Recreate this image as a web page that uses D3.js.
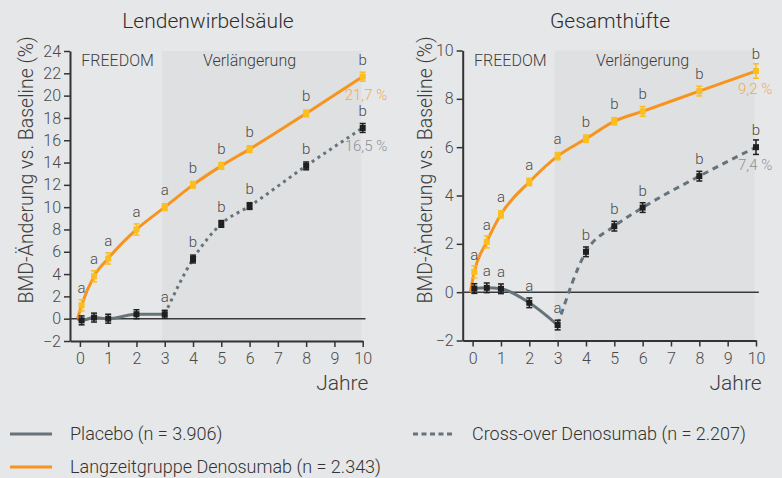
<!DOCTYPE html>
<html>
<head>
<meta charset="utf-8">
<script src="https://cdn.jsdelivr.net/npm/d3@7/dist/d3.min.js"></script>
<style>
body { margin: 0; background: #e6e7e9; }
svg text { font-family: Roboto, "Noto Sans", sans-serif; font-weight: 300; fill: #3d3d3d; }
</style>
</head>
<body>
<div id="chart"></div>
<script>

// measurement times (years)
var baselineYear = -0.08;
var yearsLong = [0.06, 0.5, 1, 2, 3, 4, 5, 6, 8, 10];
var yearsPlacebo = [0.06, 0.5, 1, 2, 3];
var yearsCross = [4, 5, 6, 8, 10];
var xTicks = [0, 1, 2, 3, 4, 5, 6, 7, 8, 9, 10];

// Lendenwirbelsäule
var lwsLong = [1.2, 3.8, 5.4, 8.0, 10.0, 12.0, 13.7, 15.2, 18.4, 21.7];
var lwsLongErr = [0.5, 0.5, 0.5, 0.5, 0.3, 0.3, 0.3, 0.3, 0.3, 0.4];
var lwsLongSig = ['a', 'a', 'a', 'a', 'a', 'b', 'b', 'b', 'b', 'b'];
var lwsPlacebo = [-0.15, 0.1, 0.0, 0.4, 0.4];
var lwsPlaceboErr = [0.4, 0.4, 0.4, 0.4, 0.35];
var lwsPlaceboSig = ['', '', '', '', 'a'];
var lwsCross = [5.35, 8.5, 10.1, 13.7, 17.1];
var lwsCrossErr = [0.35, 0.3, 0.3, 0.35, 0.4];
var lwsCrossSig = ['b', 'b', 'b', 'b', 'b'];
var lwsYTicks = [-2, 0, 2, 4, 6, 8, 10, 12, 14, 16, 18, 20, 22, 24];
var lwsEndLabels = ['21,7 %', '16,5 %'];

// Gesamthüfte
var hipLong = [0.84, 2.08, 3.22, 4.56, 5.63, 6.35, 7.07, 7.48, 8.32, 9.15];
var hipLongErr = [0.25, 0.25, 0.15, 0.15, 0.15, 0.15, 0.15, 0.2, 0.2, 0.3];
var hipLongSig = ['a', 'a', 'a', 'a', 'a', 'b', 'b', 'b', 'b', 'b'];
var hipPlacebo = [0.15, 0.18, 0.14, -0.44, -1.36];
var hipPlaceboErr = [0.2, 0.2, 0.2, 0.2, 0.2];
var hipPlaceboSig = ['', 'a', 'a', 'a', 'a'];
var hipCross = [1.67, 2.73, 3.5, 4.8, 6.0];
var hipCrossErr = [0.2, 0.2, 0.2, 0.2, 0.3];
var hipCrossSig = ['b', 'b', 'b', 'b', 'b'];
var hipYTicks = [-2, 0, 2, 4, 6, 8, 10];
var hipEndLabels = ['9,2 %', '7,4 %'];

var legendItems = ['Placebo (n = 3.906)', 'Cross-over Denosumab (n = 2.207)',
    'Langzeitgruppe Denosumab (n = 2.343)'];

var orange = '#f7941d', orangeMark = '#fcbd1e', orangeText = '#f6a94e';
var grey = '#66737b', greyText = '#8c9297', dark = '#1f1f1f';

var W = 782, H = 478;
var svg = d3.select('#chart').append('svg')
    .attr('width', W).attr('height', H);
svg.append('rect').attr('width', W).attr('height', H).attr('fill', '#e6e7e9');

function zip(xs, ys, es, ss) {
    return xs.map(function (x, i) {
        return {x: x, y: ys[i], e: es ? es[i] : 0, s: ss ? ss[i] : ''};
    });
}

function drawPanel(p) {
    var x = d3.scaleLinear().domain([-0.35, 10]).range(p.xRange);
    var y = d3.scaleLinear().domain([-2, p.yMax]).range(p.yRange);
    var g = svg.append('g');

    // Verlängerung shading
    g.append('rect')
        .attr('x', x(2.9)).attr('y', y(p.yMax))
        .attr('width', x(9.95) - x(2.9)).attr('height', y(-2) - y(p.yMax))
        .attr('fill', '#dfe0e2');

    g.append('text').attr('x', x(0.05)).attr('y', 66)
        .style('font-size', '16px').text('FREEDOM');
    g.append('text').attr('x', x(4.35)).attr('y', 66)
        .style('font-size', '16px').text('Verlängerung');

    // title
    g.append('text').attr('x', p.titleX).attr('y', 28)
        .attr('text-anchor', 'middle').style('font-size', '21px').style('fill', '#2e2e2e')
        .text(p.title);

    // axes
    var xAxis = d3.axisBottom(x).tickValues(xTicks).tickSize(6).tickSizeOuter(0).tickPadding(6);
    var yAxis = d3.axisLeft(y).tickValues(p.yTicks).tickSize(6).tickSizeOuter(0).tickPadding(3);

    var gx = g.append('g').attr('transform', 'translate(0,' + y(-2) + ')').call(xAxis);
    var gy = g.append('g').attr('transform', 'translate(' + p.xRange[0] + ',0)').call(yAxis);
    [gx, gy].forEach(function (a) {
        a.select('.domain').attr('stroke', '#333').attr('stroke-width', 2);
        a.selectAll('.tick line').attr('stroke', '#333').attr('stroke-width', 1.5);
        a.selectAll('.tick text').style('font-size', '16px').style('fill', '#4a4a4a')
            .style('font-family', 'Roboto, sans-serif').style('font-weight', 300);
    });

    // zero line
    g.append('line')
        .attr('x1', p.xRange[0]).attr('x2', x(10.1))
        .attr('y1', y(0)).attr('y2', y(0))
        .attr('stroke', '#3a3a3a').attr('stroke-width', 1.5);

    g.append('text')
        .attr('transform', 'translate(' + (p.xRange[0] - p.yLabelDx) + ',170) rotate(-90)')
        .attr('text-anchor', 'middle').style('font-size', '19.5px')
        .text('BMD-Änderung vs. Baseline (%)');

    g.append('text').attr('x', x(10.2)).attr('y', 390)
        .attr('text-anchor', 'end').style('font-size', '21px').text('Jahre');

    var line = d3.line()
        .x(function (d) { return x(d.x); })
        .y(function (d) { return y(d.y); })
        .curve(d3.curveMonotoneX);

    var origin = {x: baselineYear, y: 0};
    var long = zip(p.yearsLong, p.long, p.longErr, p.longSig);
    var placebo = zip(yearsPlacebo, p.placebo, p.placeboErr, p.placeboSig);
    var cross = zip(yearsCross, p.cross, p.crossErr, p.crossSig);
    var crossLine = [placebo[placebo.length - 1]].concat(cross);

    g.append('path').datum([origin].concat(placebo)).attr('d', line)
        .attr('fill', 'none').attr('stroke', grey).attr('stroke-width', 3);
    g.append('path').datum(crossLine).attr('d', line)
        .attr('fill', 'none').attr('stroke', grey).attr('stroke-width', 3)
        .attr('stroke-dasharray', p.dash);
    g.append('path').datum([origin].concat(long)).attr('d', line)
        .attr('fill', 'none').attr('stroke', orange).attr('stroke-width', 3);

    function marks(data, col, size) {
        var m = g.append('g').selectAll('g').data(data).enter().append('g');
        m.append('line')
            .attr('x1', function (d) { return x(d.x); })
            .attr('x2', function (d) { return x(d.x); })
            .attr('y1', function (d) { return y(d.y - d.e); })
            .attr('y2', function (d) { return y(d.y + d.e); })
            .attr('stroke', col).attr('stroke-width', 1.5);
        [-1, 1].forEach(function (s) {
            m.append('line')
                .attr('x1', function (d) { return x(d.x) - 3; })
                .attr('x2', function (d) { return x(d.x) + 3; })
                .attr('y1', function (d) { return y(d.y + s * d.e); })
                .attr('y2', function (d) { return y(d.y + s * d.e); })
                .attr('stroke', col).attr('stroke-width', 1.5);
        });
        m.append('rect')
            .attr('x', function (d) { return x(d.x) - size / 2; })
            .attr('y', function (d) { return y(d.y) - size / 2; })
            .attr('width', size).attr('height', size)
            .attr('fill', col);
        m.append('text')
            .attr('x', function (d) { return x(d.x); })
            .attr('y', function (d) { return y(d.y) - 12; })
            .attr('text-anchor', 'middle').style('font-size', '15px').style('fill', '#4a4a4a')
            .text(function (d) { return d.s; });
    }
    marks(placebo, dark, 6);
    marks(cross, dark, 6);
    marks(long, orangeMark, 6);

    var lastLong = long[long.length - 1], lastCross = cross[cross.length - 1];
    g.append('text').attr('x', x(10) - 18).attr('y', y(lastLong.y) + 23)
        .style('font-size', '15px').style('fill', orangeText).text(p.endLabels[0]);
    g.append('text').attr('x', x(10) - 18).attr('y', y(lastCross.y) + 23)
        .style('font-size', '15px').style('fill', greyText).text(p.endLabels[1]);
}

drawPanel({
    title: 'Lendenwirbelsäule', titleX: 208,
    xRange: [70, 362.7], yRange: [341, 51], yMax: 24, yTicks: lwsYTicks, yLabelDx: 37,
    yearsLong: yearsLong, long: lwsLong, longErr: lwsLongErr, longSig: lwsLongSig,
    placebo: lwsPlacebo, placeboErr: lwsPlaceboErr, placeboSig: lwsPlaceboSig,
    cross: lwsCross, crossErr: lwsCrossErr, crossSig: lwsCrossSig,
    dash: '3,4', endLabels: lwsEndLabels
});

drawPanel({
    title: 'Gesamthüfte', titleX: 610,
    xRange: [462.7, 756], yRange: [340.5, 50.5], yMax: 10, yTicks: hipYTicks, yLabelDx: 31,
    yearsLong: yearsLong, long: hipLong, longErr: hipLongErr, longSig: hipLongSig,
    placebo: hipPlacebo, placeboErr: hipPlaceboErr, placeboSig: hipPlaceboSig,
    cross: hipCross, crossErr: hipCrossErr, crossSig: hipCrossSig,
    dash: '6,5', endLabels: hipEndLabels
});

// legend
var legend = svg.append('g');
var legendPos = [[10, 434, grey, null], [413, 434, grey, '5,3.5'], [10, 467, orange, null]];
legendPos.forEach(function (l, i) {
    legend.append('line')
        .attr('x1', l[0]).attr('x2', l[0] + 42).attr('y1', l[1]).attr('y2', l[1])
        .attr('stroke', l[2]).attr('stroke-width', 3)
        .attr('stroke-dasharray', l[3]);
    legend.append('text')
        .attr('x', l[0] + (i === 1 ? 59 : 60)).attr('y', l[1] + 6)
        .style('font-size', '18px').style('fill', '#333')
        .text(legendItems[i]);
});
</script>
</body>
</html>
